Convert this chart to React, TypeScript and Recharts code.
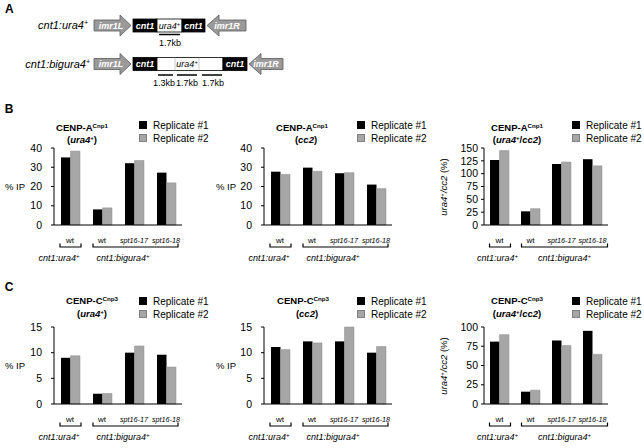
import React from "react";
import { Bar, BarChart, Legend, XAxis, YAxis } from "recharts";

const strains = ["wt-ura4", "wt-bigura4", "spt16-17", "spt16-18"];
const strainLabels = ["wt", "wt", "spt16-17", "spt16-18"];

// CENP-A Cnp1 ChIP
const cnp1Ura4Rep1 = [35.1, 8.1, 32.1, 27.2];
const cnp1Ura4Rep2 = [38.4, 8.9, 33.5, 21.9];
const cnp1Cc2Rep1 = [27.7, 29.8, 26.9, 21.0];
const cnp1Cc2Rep2 = [26.3, 27.9, 27.2, 18.9];
const cnp1RatioRep1 = [126.6, 26.6, 118.8, 128.2];
const cnp1RatioRep2 = [145.0, 31.8, 122.7, 115.3];

// CENP-C Cnp3 ChIP
const cnp3Ura4Rep1 = [9.0, 2.0, 10.0, 9.6];
const cnp3Ura4Rep2 = [9.4, 2.05, 11.3, 7.2];
const cnp3Cc2Rep1 = [11.1, 12.2, 12.2, 10.0];
const cnp3Cc2Rep2 = [10.6, 11.9, 15.0, 11.2];
const cnp3RatioRep1 = [81, 16, 82.5, 95];
const cnp3RatioRep2 = [90, 18, 76, 64.5];

const ipTicksA = [0, 10, 20, 30, 40];
const ratioTicksA = [0, 25, 50, 75, 100, 125, 150];
const ipTicksC = [0, 5, 10, 15];
const ratioTicksC = [0, 25, 50, 75, 100];

const FONT = '"Liberation Sans", Arial, Helvetica, sans-serif';
const BLACK = "#000000";
const GRAY = "#a6a6a6";

type Col = {
  left: number;
  right: number;
  tickMargin: number;
  labelShift: [number, number];
  bigBracket: [number, number];
  legendX: number;
  yLabelX: number;
};

type Row = {
  top: number;
  bottom: number;
  legendY: number;
};

const columns: Col[] = [
  { left: 54, right: 182, tickMargin: 9, labelShift: [-11, -11], bigBracket: [-41, 44], legendX: 139, yLabelX: 15 },
  { left: 264, right: 392, tickMargin: 9, labelShift: [-11, -11], bigBracket: [-41, 44], legendX: 357, yLabelX: 226 },
  { left: 484, right: 608, tickMargin: 3, labelShift: [-2, 3], bigBracket: [-40, 46], legendX: 572, yLabelX: 444 },
];

const rows: Row[] = [
  { top: 148, bottom: 225, legendY: 125 },
  { top: 327, bottom: 404, legendY: 301 },
];

const Sup = ({ children }: { children: React.ReactNode }) => (
  <span style={{ fontSize: "0.65em", position: "relative", top: "-0.45em" }}>{children}</span>
);

const StrainTick = (props: any) => {
  const { x, y, payload, col } = props;
  const i = strains.indexOf(payload.value);
  const label = strainLabels[i];
  const isWt = label === "wt";
  const textProps = { fontFamily: FONT, fill: "#000", textAnchor: "middle" as const };
  return (
    <g>
      <text x={x} y={y + 17.5} fontSize={isWt ? 8 : 7.2} fontStyle={isWt ? "normal" : "italic"} {...textProps}>
        {label}
      </text>
      {i === 0 && (
        <g>
          <path d={`M${x - 10},${y + 18.5}V${y + 22}H${x + 11}V${y + 18.5}`} stroke="#000" strokeWidth={1.2} fill="none" />
          <text x={x + col.labelShift[0]} y={y + 36} fontSize={9} fontStyle="italic" {...textProps}>
            cnt1:ura4<tspan dy={-3} fontSize={6}>+</tspan>
          </text>
        </g>
      )}
      {i === 2 && (
        <g>
          <path
            d={`M${x + col.bigBracket[0]},${y + 18.5}V${y + 22}H${x + col.bigBracket[1]}V${y + 18.5}`}
            stroke="#000"
            strokeWidth={1.2}
            fill="none"
          />
          <text x={x + col.labelShift[1]} y={y + 36} fontSize={9} fontStyle="italic" {...textProps}>
            cnt1:bigura4<tspan dy={-3} fontSize={6}>+</tspan>
          </text>
        </g>
      )}
    </g>
  );
};

const ReplicateLegend = (props: any) => {
  const payload = props.payload ?? [];
  return (
    <div style={{ fontFamily: FONT, fontSize: 10, color: "#000" }}>
      {payload.map((entry: any) => {
        const gray = entry.value === "Replicate #2";
        return (
          <div key={entry.value} style={{ display: "flex", alignItems: "center", height: 13, whiteSpace: "nowrap" }}>
            <span
              style={{
                display: "inline-block",
                width: 8,
                height: 8,
                boxSizing: "border-box",
                background: gray ? GRAY : BLACK,
                border: `1px solid ${gray ? "#7f7f7f" : BLACK}`,
                marginRight: 6,
              }}
            />
            {entry.value}
          </div>
        );
      })}
    </div>
  );
};

type PanelProps = {
  col: Col;
  row: Row;
  rep1: number[];
  rep2: number[];
  ticks: number[];
};

const ChipPanel = ({ col, row, rep1, rep2, ticks }: PanelProps) => {
  const boxX = col.left - 50;
  const boxY = row.top - 8;
  const width = col.right - boxX + 12;
  const height = row.bottom - boxY + 45;
  const data = strains.map((s, i) => ({ strain: s, rep1: rep1[i], rep2: rep2[i] }));
  return (
    <div style={{ position: "absolute", left: boxX, top: boxY }}>
      <BarChart
        width={width}
        height={height}
        data={data}
        margin={{ top: 8, right: 12, bottom: 0, left: 10 }}
        barGap={0}
        barSize={9.5}
      >
        <XAxis
          dataKey="strain"
          height={45}
          tickSize={0}
          tickMargin={0}
          axisLine={{ stroke: "#000", strokeWidth: 1 }}
          tickLine={false}
          interval={0}
          tick={(p: any) => <StrainTick {...p} col={col} />}
        />
        <YAxis
          width={40}
          domain={[ticks[0], ticks[ticks.length - 1]]}
          ticks={ticks}
          interval={0}
          tickSize={3}
          tickMargin={col.tickMargin}
          axisLine={{ stroke: "#000", strokeWidth: 1 }}
          tickLine={{ stroke: "#000", strokeWidth: 1 }}
          tick={{ fill: "#000", fontSize: 10.5, fontFamily: FONT }}
        />
        <Legend
          layout="vertical"
          align="center"
          verticalAlign="middle"
          content={<ReplicateLegend />}
          wrapperStyle={{ left: col.legendX - boxX, top: row.legendY - 6.5 - boxY, width: "auto", height: "auto" }}
        />
        <Bar dataKey="rep1" name="Replicate #1" fill={BLACK} isAnimationActive={false} />
        <Bar dataKey="rep2" name="Replicate #2" fill={GRAY} stroke="#8c8c8c" strokeWidth={0.5} isAnimationActive={false} />
      </BarChart>
    </div>
  );
};

const Label = ({ x, y, children, style }: { x: number; y: number; children: React.ReactNode; style?: React.CSSProperties }) => (
  <div
    style={{
      position: "absolute",
      left: x,
      top: y,
      transform: "translate(-50%, -50%)",
      whiteSpace: "nowrap",
      fontFamily: FONT,
      color: "#000",
      lineHeight: 1,
      ...style,
    }}
  >
    {children}
  </div>
);

const titleStyle: React.CSSProperties = { fontWeight: "bold", fontSize: 9.5 };

const YLabel = ({ col, row, ratio }: { col: Col; row: Row; ratio: boolean }) => {
  const cy = (row.top + row.bottom) / 2;
  if (!ratio) {
    return (
      <Label x={col.yLabelX} y={cy} style={{ fontSize: 9.5 }}>
        % IP
      </Label>
    );
  }
  return (
    <Label x={col.yLabelX} y={cy} style={{ fontSize: 9.5, transform: "translate(-50%, -50%) rotate(-90deg)" }}>
      <i>ura4</i>
      <Sup>+</Sup>
      <i>/cc2</i> (%)
    </Label>
  );
};

const arrowShape = (x0: number, xh: number, x1: number, cy: number) =>
  `${x0},${cy - 5.5} ${xh},${cy - 5.5} ${xh},${cy - 10.5} ${x1},${cy} ${xh},${cy + 10.5} ${xh},${cy + 5.5} ${x0},${cy + 5.5}`;

const ConstructDiagram = () => {
  const arrowStyle = { fill: "#9a9a9a", stroke: "#5a5a5a", strokeWidth: 0.8 };
  const whiteText = { fill: "#fff", fontFamily: FONT, fontSize: 9, fontWeight: "bold" as const, fontStyle: "italic", textAnchor: "middle" as const };
  const blackText = { fill: "#000", fontFamily: FONT, fontSize: 9, fontStyle: "italic", textAnchor: "middle" as const };
  const kbText = { fill: "#000", fontFamily: FONT, fontSize: 9, textAnchor: "middle" as const };
  const r1 = 25.5;
  const r2 = 64;
  return (
    <svg width={300} height={95} style={{ position: "absolute", left: 0, top: 0 }}>
      <text x={5} y={13} fontFamily={FONT} fontSize={12} fontWeight="bold">
        A
      </text>

      <text x={88} y={r1 + 3.5} fontFamily={FONT} fontSize={11} fontStyle="italic" textAnchor="end">
        cnt1:ura4<tspan dy={-4} fontSize={7}>+</tspan>
      </text>
      <polygon points={arrowShape(94, 120, 131, r1)} {...arrowStyle} />
      <text x={111} y={r1 + 3} {...whiteText}>imr1L</text>
      <rect x={133} y={r1 - 6.5} width={24} height={13} fill="#000" stroke="#000" strokeWidth={0.8} />
      <text x={145} y={r1 + 3} {...whiteText}>cnt1</text>
      <rect x={157} y={r1 - 6.5} width={25} height={13} fill="#fff" stroke="#000" strokeWidth={0.8} />
      <text x={169.5} y={r1 + 3} {...blackText}>
        ura4<tspan dy={-3} fontSize={6}>+</tspan>
      </text>
      <rect x={182} y={r1 - 6.5} width={23} height={13} fill="#000" stroke="#000" strokeWidth={0.8} />
      <text x={193.5} y={r1 + 3} {...whiteText}>cnt1</text>
      <polygon points={arrowShape(246, 219, 207, r1)} {...arrowStyle} />
      <text x={227} y={r1 + 3} {...whiteText}>imr1R</text>
      <line x1={159} x2={180} y1={34.5} y2={34.5} stroke="#000" strokeWidth={1.5} />
      <text x={170} y={46} {...kbText}>1.7kb</text>

      <text x={90} y={r2 + 3.5} fontFamily={FONT} fontSize={11} fontStyle="italic" textAnchor="end">
        cnt1:bigura4<tspan dy={-4} fontSize={7}>+</tspan>
      </text>
      <polygon points={arrowShape(94, 120, 131, r2)} {...arrowStyle} />
      <text x={111} y={r2 + 3} {...whiteText}>imr1L</text>
      <rect x={133} y={r2 - 6.5} width={24} height={13} fill="#000" stroke="#000" strokeWidth={0.8} />
      <text x={145} y={r2 + 3} {...whiteText}>cnt1</text>
      <rect x={157} y={r2 - 6.5} width={66} height={13} fill="#fff" stroke="#000" strokeWidth={0.8} />
      <line x1={175} x2={175} y1={r2 - 6.5} y2={r2 + 6.5} stroke="#aaa" strokeWidth={0.6} />
      <line x1={199} x2={199} y1={r2 - 6.5} y2={r2 + 6.5} stroke="#aaa" strokeWidth={0.6} />
      <text x={187} y={r2 + 3} {...blackText}>
        ura4<tspan dy={-3} fontSize={6}>+</tspan>
      </text>
      <rect x={223} y={r2 - 6.5} width={24} height={13} fill="#000" stroke="#000" strokeWidth={0.8} />
      <text x={235} y={r2 + 3} {...whiteText}>cnt1</text>
      <polygon points={arrowShape(283, 261, 249, r2)} {...arrowStyle} />
      <text x={266} y={r2 + 3} {...whiteText}>imr1R</text>
      <line x1={158} x2={173} y1={75} y2={75} stroke="#000" strokeWidth={1.5} />
      <line x1={177} x2={197} y1={75} y2={75} stroke="#000" strokeWidth={1.5} />
      <line x1={202} x2={222} y1={75} y2={75} stroke="#000" strokeWidth={1.5} />
      <text x={164} y={86} {...kbText}>1.3kb</text>
      <text x={187} y={86} {...kbText}>1.7kb</text>
      <text x={213} y={86} {...kbText}>1.7kb</text>
    </svg>
  );
};

export default function App() {
  const [c1, c2, c3] = columns;
  const [rB, rC] = rows;
  return (
    <div
      style={{
        position: "absolute",
        left: 0,
        top: 0,
        width: 644,
        height: 448,
        overflow: "hidden",
        background: "#fff",
        fontFamily: FONT,
      }}
    >
      <ConstructDiagram />

      <Label x={9} y={109} style={{ fontWeight: "bold", fontSize: 12 }}>B</Label>
      <Label x={9} y={287} style={{ fontWeight: "bold", fontSize: 12 }}>C</Label>

      {/* row B: CENP-A Cnp1 */}
      <Label x={82} y={128} style={titleStyle}>CENP-A<Sup>Cnp1</Sup></Label>
      <Label x={82} y={140} style={titleStyle}>(<i>ura4</i><Sup>+</Sup>)</Label>
      <Label x={302} y={128} style={titleStyle}>CENP-A<Sup>Cnp1</Sup></Label>
      <Label x={306} y={140} style={titleStyle}>(<i>cc2</i>)</Label>
      <Label x={517} y={128} style={titleStyle}>CENP-A<Sup>Cnp1</Sup></Label>
      <Label x={517} y={140} style={titleStyle}>(<i>ura4</i><Sup>+</Sup>/<i>cc2</i>)</Label>

      <YLabel col={c1} row={rB} ratio={false} />
      <YLabel col={c2} row={rB} ratio={false} />
      <YLabel col={c3} row={rB} ratio />

      <ChipPanel col={c1} row={rB} rep1={cnp1Ura4Rep1} rep2={cnp1Ura4Rep2} ticks={ipTicksA} />
      <ChipPanel col={c2} row={rB} rep1={cnp1Cc2Rep1} rep2={cnp1Cc2Rep2} ticks={ipTicksA} />
      <ChipPanel col={c3} row={rB} rep1={cnp1RatioRep1} rep2={cnp1RatioRep2} ticks={ratioTicksA} />

      {/* row C: CENP-C Cnp3 */}
      <Label x={92} y={301} style={titleStyle}>CENP-C<Sup>Cnp3</Sup></Label>
      <Label x={92} y={314} style={titleStyle}>(<i>ura4</i><Sup>+</Sup>)</Label>
      <Label x={303} y={301} style={titleStyle}>CENP-C<Sup>Cnp3</Sup></Label>
      <Label x={307} y={314} style={titleStyle}>(<i>cc2</i>)</Label>
      <Label x={517} y={301} style={titleStyle}>CENP-C<Sup>Cnp3</Sup></Label>
      <Label x={517} y={314} style={titleStyle}>(<i>ura4</i><Sup>+</Sup>/<i>cc2</i>)</Label>

      <YLabel col={c1} row={rC} ratio={false} />
      <YLabel col={c2} row={rC} ratio={false} />
      <YLabel col={c3} row={rC} ratio />

      <ChipPanel col={c1} row={rC} rep1={cnp3Ura4Rep1} rep2={cnp3Ura4Rep2} ticks={ipTicksC} />
      <ChipPanel col={c2} row={rC} rep1={cnp3Cc2Rep1} rep2={cnp3Cc2Rep2} ticks={ipTicksC} />
      <ChipPanel col={c3} row={rC} rep1={cnp3RatioRep1} rep2={cnp3RatioRep2} ticks={ratioTicksC} />
    </div>
  );
}
